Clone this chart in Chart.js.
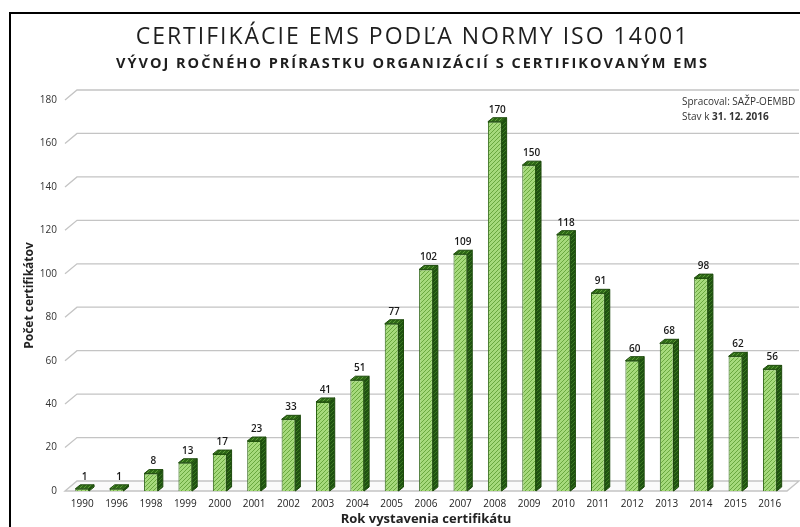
<!DOCTYPE html>
<html>
<head>
<meta charset="utf-8">
<script src="https://cdn.jsdelivr.net/npm/chart.js@4.4.1/dist/chart.umd.min.js"></script>
<style>
    body { margin: 0; background: #fff; }
    #wrap { position: relative; width: 800px; height: 527px; overflow: hidden; }
    #myChart { position: absolute; left: 0; top: 0; }
    #frame { position: absolute; left: 9px; top: 12px; width: 820px; height: 560px;
             border-left: 2px solid #000; border-top: 2px solid #000; pointer-events: none; }
</style>
</head>
<body>
<div id="wrap">
    <canvas id="myChart" width="800" height="527"></canvas>
    <div id="frame"></div>
</div>
<script>
const roky = ['1990', '1996', '1998', '1999', '2000', '2001', '2002', '2003', '2004', '2005', '2006',
    '2007', '2008', '2009', '2010', '2011', '2012', '2013', '2014', '2015', '2016'];
const pocty = [1, 1, 8, 13, 17, 23, 33, 41, 51, 77, 102, 109, 170, 150, 118, 91, 60, 68, 98, 62, 56];
const osY = [0, 20, 40, 60, 80, 100, 120, 140, 160, 180];

const pismo = 'Open Sans';
const hlbka = { dx: 5, dy: 4 };      // 3D posun stlpcov
const podlaha = { dx: 12, dy: 10 };  // 3D posun zadnej steny

// srafovanie pre stlpce
let vzor = (zaklad, ciara) => {
    let c = document.createElement('canvas');
    c.width = 4; c.height = 4;
    let g = c.getContext('2d');
    g.fillStyle = zaklad;
    g.fillRect(0, 0, 4, 4);
    g.strokeStyle = ciara;
    g.lineWidth = 1;
    g.beginPath();
    g.moveTo(0, 4); g.lineTo(4, 0);
    g.moveTo(-1, 1); g.lineTo(1, -1);
    g.moveTo(3, 5); g.lineTo(5, 3);
    g.stroke();
    return g.createPattern(c, 'repeat');
};

const ctx = document.getElementById('myChart');
const predok = vzor('#a6da7c', '#6aa83f');
const bok = vzor('#1f5211', '#3c7a22');
const vrch = vzor('#2e6a17', '#5d9a38');

// nadpisy su riedke (prestrkane pismo)
const riedko = {
    id: 'riedko',
    beforeDraw(chart) {
        chart.ctx.letterSpacing = '2px';
    },
    beforeDatasetsDraw(chart) {
        chart.ctx.letterSpacing = '0px';
    }
};

const stena = {
    id: 'stena',
    beforeDatasetsDraw(chart) {
        let { ctx, chartArea } = chart;
        let y = chart.scales.y;
        ctx.save();
        ctx.strokeStyle = '#c4c4c4';
        ctx.lineWidth = 1.3;
        osY.forEach(v => {
            if (v === 0) return;
            let py = y.getPixelForValue(v);
            ctx.beginPath();
            ctx.moveTo(chartArea.left, py);
            ctx.lineTo(chartArea.left + podlaha.dx, py - podlaha.dy);
            ctx.lineTo(chartArea.right + podlaha.dx, py - podlaha.dy);
            ctx.stroke();
        });
        // podlaha
        let b = y.getPixelForValue(0);
        ctx.beginPath();
        ctx.moveTo(chartArea.left, b);
        ctx.lineTo(chartArea.left + podlaha.dx, b - podlaha.dy);
        ctx.lineTo(chartArea.right + podlaha.dx, b - podlaha.dy);
        ctx.lineTo(chartArea.right, b);
        ctx.closePath();
        ctx.fillStyle = '#fafafa';
        ctx.fill();
        ctx.stroke();
        ctx.restore();
    },
    afterDatasetsDraw(chart) {
        let { ctx, chartArea } = chart;
        let meta = chart.getDatasetMeta(0);
        ctx.save();
        ctx.strokeStyle = '#1d4a0c';
        ctx.lineWidth = 1;
        meta.data.forEach((bar, i) => {
            let l = bar.x - bar.width / 2, r = bar.x + bar.width / 2;
            let t = bar.y, z = bar.base;
            // bocna stena
            ctx.beginPath();
            ctx.moveTo(r, t);
            ctx.lineTo(r + hlbka.dx, t - hlbka.dy);
            ctx.lineTo(r + hlbka.dx, z - hlbka.dy);
            ctx.lineTo(r, z);
            ctx.closePath();
            ctx.fillStyle = bok;
            ctx.fill();
            ctx.stroke();
            // vrch
            ctx.beginPath();
            ctx.moveTo(l, t);
            ctx.lineTo(l + hlbka.dx, t - hlbka.dy);
            ctx.lineTo(r + hlbka.dx, t - hlbka.dy);
            ctx.lineTo(r, t);
            ctx.closePath();
            ctx.fillStyle = vrch;
            ctx.fill();
            ctx.stroke();
            // hodnota
            ctx.fillStyle = '#1a1a1a';
            ctx.font = '600 10px "' + pismo + '"';
            ctx.textAlign = 'center';
            ctx.textBaseline = 'bottom';
            ctx.fillText(pocty[i], bar.x + hlbka.dx / 2, t - hlbka.dy - 3);
        });
        // poznamka
        let x0 = chartArea.right - 105;
        ctx.textAlign = 'left';
        ctx.textBaseline = 'middle';
        ctx.fillStyle = '#333';
        ctx.font = '10px "' + pismo + '"';
        ctx.fillText('Spracoval: SAŽP-OEMBD', x0, chartArea.top + 2);
        ctx.fillText('Stav k ', x0, chartArea.top + 17);
        let w = ctx.measureText('Stav k ').width;
        ctx.font = 'bold 10px "' + pismo + '"';
        ctx.fillText('31. 12. 2016', x0 + w, chartArea.top + 17);
        ctx.restore();
    }
};

let chart = new Chart(ctx, {
    type: 'bar',
    data: {
        labels: roky,
        datasets: [{
            data: pocty,
            backgroundColor: predok,
            borderColor: '#2a6312',
            borderWidth: 1,
            categoryPercentage: 0.8,
            barPercentage: 0.5
        }]
    },
    plugins: [riedko, stena],
    options: {
        responsive: false,
        animation: false,
        layout: {
            padding: { left: 38, right: 13, top: 0, bottom: 0 }
        },
        scales: {
            x: {
                grid: { display: false, drawTicks: false, z: 1 },
                border: { display: false, z: 1 },
                ticks: {
                    z: 1,
                    padding: 7,
                    color: '#222',
                    font: { family: pismo, size: 10 }
                },
                title: {
                    display: true,
                    text: 'Rok vystavenia certifikátu',
                    color: '#222',
                    font: { family: pismo, size: 13, weight: 'bold' },
                    padding: { top: 2, bottom: 0 }
                },
                afterFit: function (scale) {
                    scale.height = 36;
                }
            },
            y: {
                min: 0,
                max: 180,
                grid: { display: false, drawTicks: false, z: 1 },
                border: { display: false, z: 1 },
                ticks: {
                    z: 1,
                    stepSize: 20,
                    padding: 8,
                    color: '#333',
                    font: { family: pismo, size: 10 }
                },
                title: {
                    display: true,
                    text: 'Počet certifikátov',
                    color: '#222',
                    font: { family: pismo, size: 12, weight: 'bold' },
                    padding: { top: -16, bottom: 4 }
                },
                afterFit: function (scale) {
                    scale.width = 27;
                }
            }
        },
        plugins: {
            legend: { display: false },
            tooltip: { enabled: false },
            title: {
                display: true,
                text: 'CERTIFIKÁCIE EMS PODĽA NORMY ISO 14001',
                color: '#1e1e1e',
                font: { family: pismo, size: 23, weight: 500 },
                padding: { top: 24, bottom: 4 }
            },
            subtitle: {
                display: true,
                text: 'VÝVOJ ROČNÉHO PRÍRASTKU ORGANIZÁCIÍ S CERTIFIKOVANÝM EMS',
                color: '#1e1e1e',
                font: { family: pismo, size: 14.5, weight: 'bold' },
                padding: { top: 0, bottom: 27 }
            }
        }
    }
});
</script>
</body>
</html>
